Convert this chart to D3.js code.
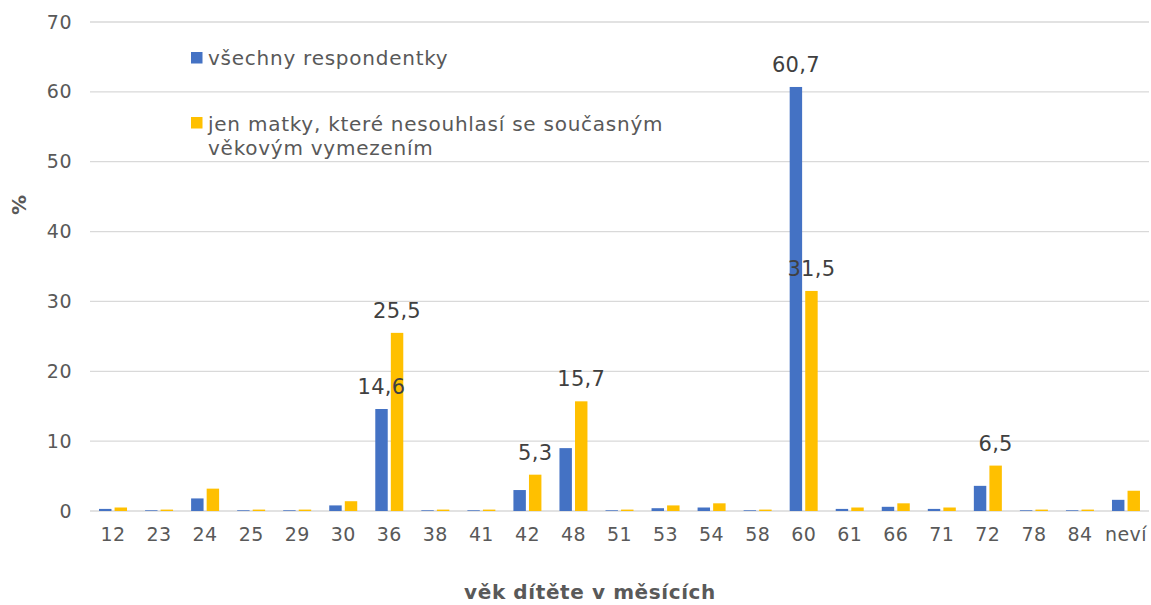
<!DOCTYPE html>
<html><head><meta charset="utf-8">
<script src="https://cdn.jsdelivr.net/npm/d3@7"></script>
<style>body{margin:0;background:#fff}svg{display:block}text{font-family:"DejaVu Sans",Verdana,sans-serif}</style>
</head><body><svg id="c" width="1151" height="605"></svg>
<script>
const categories = ["12","23","24","25","29","30","36","38","41","42","48","51","53","54","58","60","61","66","71","72","78","84","neví"];
const seriesNames = ["všechny respondentky","jen matky, které nesouhlasí se současným věkovým vymezením"];
const allValues =    [0.3,0.1,1.8,0.1,0.1,0.8,14.6,0.1,0.1,3.0,9.0,0.1,0.4,0.5,0.1,60.7,0.3,0.6,0.3,3.6,0.1,0.1,1.6];
const motherValues = [0.5,0.2,3.2,0.2,0.2,1.4,25.5,0.2,0.2,5.2,15.7,0.2,0.8,1.1,0.2,31.5,0.5,1.1,0.5,6.5,0.2,0.2,2.9];
const allLabels =    [null,null,null,null,null,null,"14,6",null,null,null,null,null,null,null,null,"60,7",null,null,null,null,null,null,null];
const motherLabels = [null,null,null,null,null,null,"25,5",null,null,"5,3","15,7",null,null,null,null,"31,5",null,null,null,"6,5",null,null,null];
const yTicks = [0,10,20,30,40,50,60,70];
const colors = ["#4472C4","#FFC000"];

const svg = d3.select("#c");
const L = 90, R = 1149, T = 22, B = 511;
const x = d3.scaleBand().domain(categories).range([L, R]).padding(0);
const bw = x.bandwidth();
const x1 = d3.scaleBand().domain([0,1]).range([bw/2-14, bw/2+14]).paddingInner(0.2);
const y = d3.scaleLinear().domain([0,70]).range([B, T]);

// gridlines
svg.append("g").selectAll("line").data(yTicks).join("line")
  .attr("x1", L).attr("x2", R).attr("y1", d=>y(d)).attr("y2", d=>y(d))
  .attr("stroke", "#d9d9d9").attr("stroke-width", 1.3);

// y axis labels
const yAxis = d3.axisLeft(y).tickValues(yTicks).tickSize(0).tickPadding(18);
const gy = svg.append("g").attr("transform", `translate(${L},0)`).call(yAxis);
gy.select(".domain").remove();
gy.selectAll("text").attr("font-size", 19).attr("fill", "#595959").attr("letter-spacing", 0.5).attr("font-family", "DejaVu Sans, Verdana, sans-serif");

// x axis labels
const xAxis = d3.axisBottom(x).tickSize(0).tickPadding(17);
const gx = svg.append("g").attr("transform", `translate(0,${B})`).call(xAxis);
gx.select(".domain").remove();
gx.selectAll("text").attr("font-size", 19).attr("fill", "#595959").attr("letter-spacing", 0.4).attr("font-family", "DejaVu Sans, Verdana, sans-serif");

const series = [allValues, motherValues];
const labels = [allLabels, motherLabels];
series.forEach((vals, s) => {
  svg.append("g").selectAll("rect").data(vals).join("rect")
    .attr("x", (d,i)=>x(categories[i]) + x1(s))
    .attr("width", x1.bandwidth())
    .attr("y", d=>y(d))
    .attr("height", d=>B - y(d))
    .attr("fill", colors[s]);
});
series.forEach((vals, s) => {
  svg.append("g").selectAll("text").data(vals.map((v,i)=>({v, i, l: labels[s][i]})).filter(d=>d.l))
    .join("text")
    .attr("x", d=>x(categories[d.i]) + x1(s) + x1.bandwidth()/2)
    .attr("y", d=>y(d.v) - 15)
    .attr("text-anchor", "middle").attr("font-size", 21).attr("letter-spacing", 0.3).attr("fill", "#404040")
    .text(d=>d.l);
});

// legend
const lg = svg.append("g").attr("font-size", 20).attr("letter-spacing", 0.75).attr("fill", "#595959");
lg.append("rect").attr("x", 191).attr("y", 52).attr("width", 11.5).attr("height", 11.5).attr("fill", colors[0]);
lg.append("text").attr("x", 208).attr("y", 65).text(seriesNames[0]);
lg.append("rect").attr("x", 191).attr("y", 117).attr("width", 11.5).attr("height", 11.5).attr("fill", colors[1]);
lg.append("text").attr("x", 208).attr("y", 131).text("jen matky, které nesouhlasí se současným");
lg.append("text").attr("x", 208).attr("y", 155).text("věkovým vymezením");

// axis titles
svg.append("text").attr("transform", "translate(26,205) rotate(-90)").attr("text-anchor", "middle")
  .attr("font-size", 20).attr("font-weight", "bold").attr("fill", "#595959").text("%");
svg.append("text").attr("x", 590).attr("y", 599).attr("text-anchor", "middle").attr("letter-spacing", 0.6)
  .attr("font-size", 20).attr("font-weight", "bold").attr("fill", "#595959").text("věk dítěte v měsících");
</script></body></html>
